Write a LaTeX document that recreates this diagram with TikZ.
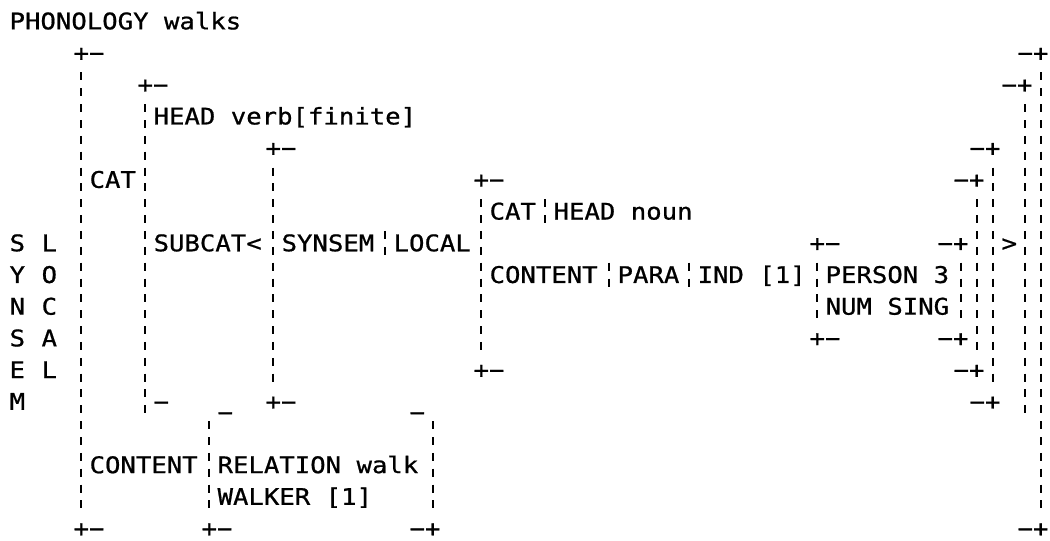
\documentclass[tikz,border=0pt]{standalone}
\usepackage{fontspec}
\newfontfamily\prt[FakeStretch=1.12,FakeBold=0.8]{DejaVu Sans Mono}
\tikzset{
  txt/.style={anchor=base west, inner sep=0pt, outer sep=0pt, font=\prt\fontsize{22.9}{27}\selectfont},
  vbar/.style={line width=2pt, dash pattern=on 8pt off 7.85pt, dash phase=11.92pt}
}
\newcommand\T[4]{\node[txt] (#1) at ({9.6+16*(#2)},{21+31.7*(#3)+8.35}) {#4};}
\newcommand\VB[3]{\draw[vbar] ({17+16*(#1)},{21+31.7*(#2)-15.85}) -- ({17+16*(#1)},{21+31.7*(#3)+15.85});}
\begin{document}
\begin{tikzpicture}[x=1pt,y=-1pt]
\fill[white] (0,0) rectangle (1050,541);
\useasboundingbox (0,0) rectangle (1050,541);
% texts
\T{phon}{0}{0}{PHONOLOGY walks}
\T{c1l}{4}{1}{+−} \T{c1r}{63}{1}{−+}
\T{c2l}{8}{2}{+−} \T{c2r}{62}{2}{−+}
\T{head}{9}{3}{HEAD verb[finite]}
\T{c3l}{16}{4}{+−} \T{c3r}{60}{4}{−+}
\T{cat}{5}{5}{CAT} \T{c4l}{29}{5}{+−} \T{c4r}{59}{5}{−+}
\T{cat2}{30}{6}{CAT} \T{headn}{34}{6}{HEAD noun}
\T{s1}{0}{7}{S} \T{l1}{2}{7}{L} \T{subcat}{9}{7}{SUBCAT<} \T{synsem}{17}{7}{SYNSEM} \T{local}{24}{7}{LOCAL}
\T{c5l}{50}{7}{+−} \T{c5r}{58}{7}{−+} \T{gt}{62}{7}{>}
\T{y}{0}{8}{Y} \T{o}{2}{8}{O} \T{content2}{30}{8}{CONTENT} \T{para}{38}{8}{PARA} \T{ind}{43}{8}{IND [1]} \T{person}{51}{8}{PERSON 3}
\T{n}{0}{9}{N} \T{c}{2}{9}{C} \T{num}{51}{9}{NUM SING}
\T{s2}{0}{10}{S} \T{a}{2}{10}{A} \T{c5bl}{50}{10}{+−} \T{c5br}{58}{10}{−+}
\T{e}{0}{11}{E} \T{l2}{2}{11}{L} \T{c4bl}{29}{11}{+−} \T{c4br}{59}{11}{−+}
\T{m}{0}{12}{M} \T{c2bl}{9}{12}{−} \T{c3bl}{16}{12}{+−} \T{c3br}{60}{12}{−+}
\node[txt] (r1) at ({9.6+16*13},420.4) {−};
\node[txt] (r2) at ({9.6+16*25},420.4) {−};
\T{content}{5}{14}{CONTENT} \T{rel}{13}{14}{RELATION walk}
\T{walker}{13}{15}{WALKER [1]}
\T{c1bl}{4}{16}{+−} \T{c6bl}{12}{16}{+−} \T{c6br}{25}{16}{−+} \T{c1br}{63}{16}{−+}
% bars
\VB{4}{2}{15} \VB{64}{2}{15}
\VB{8}{3}{12} \VB{63}{3}{12}
\VB{16}{5}{11} \VB{61}{5}{11}
\VB{29}{6}{10} \VB{60}{6}{10}
\VB{50}{8}{9} \VB{59}{8}{9}
\VB{12}{13}{15} \VB{26}{13}{15}
\VB{33}{6}{6} \VB{23}{7}{7} \VB{37}{8}{8} \VB{42}{8}{8}
\end{tikzpicture}
\end{document}
